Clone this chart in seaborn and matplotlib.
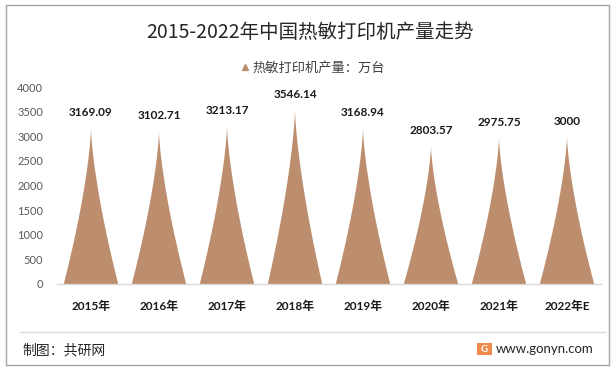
import numpy as np
import matplotlib
matplotlib.use("Agg")
import matplotlib.pyplot as plt
import seaborn as sns
import pandas as pd
from matplotlib.path import Path
from matplotlib.patches import PathPatch, Rectangle
from matplotlib.lines import Line2D

# data
years = ["2015年", "2016年", "2017年", "2018年", "2019年", "2020年", "2021年", "2022年E"]
output = [3169.09, 3102.71, 3213.17, 3546.14, 3168.94, 2803.57, 2975.75, 3000]
value_labels = ["3169.09", "3102.71", "3213.17", "3546.14", "3168.94", "2803.57", "2975.75", "3000"]
y_ticks = [0, 500, 1000, 1500, 2000, 2500, 3000, 3500, 4000]

title = "2015-2022年中国热敏打印机产量走势"
series_name = "热敏打印机产量：万台"
source_text = "制图：共研网"
site_text = "www.gonyn.com"

spike_color = "#BC8E6E"
cjk = ["Noto Sans CJK SC", "DejaVu Sans"]
num_font = ["Lato", "Noto Sans CJK SC"]

sns.set_theme(style="white")
plt.rcParams["font.family"] = cjk

df = pd.DataFrame({"year": years, "output": output})

fig = plt.figure(figsize=(6.16, 3.71), dpi=100)
ax = fig.add_axes([57 / 616, 1 - 284 / 371, 544 / 616, 197 / 371])

sns.barplot(data=df, x="year", y="output", color=spike_color, width=0.8,
            saturation=1, ax=ax)


def spike_path(x0, w, h, n=80):
    # concave "pointed" shape built on the bar's own geometry
    t = np.linspace(0, 1, n)
    half = 0.5 * w * (1 - t) ** 1.45
    xc = x0 + w / 2
    ys = t * h
    left = np.column_stack([xc - half, ys])
    right = np.column_stack([xc + half, ys])[::-1]
    verts = np.vstack([left, right, left[:1]])
    codes = [Path.MOVETO] + [Path.LINETO] * (len(verts) - 2) + [Path.CLOSEPOLY]
    return Path(verts, codes)


for bar, lab in zip(list(ax.patches), value_labels):
    x0, w, h = bar.get_x(), bar.get_width(), bar.get_height()
    bar.set_visible(False)
    ax.add_patch(PathPatch(spike_path(x0, w, h), facecolor=spike_color,
                           edgecolor="none"))
    ax.annotate(lab, (x0 + w / 2, h), xytext=(0, 7), textcoords="offset points",
                ha="center", va="bottom", fontsize=8.5, fontweight="bold",
                family=num_font, color="#1a1a1a")

ax.set_ylim(0, 4000)
ax.set_xlim(-0.5, len(years) - 0.5)
ax.set_yticks(y_ticks)
ax.set_yticklabels([str(v) for v in y_ticks], family=num_font, fontsize=8,
                   color="#595959")
ax.set_xticks(range(len(years)))
ax.set_xticklabels(years, family=num_font, fontsize=8.5, fontweight="bold",
                   color="#1a1a1a")
ax.tick_params(axis="y", length=0, pad=10)
ax.tick_params(axis="x", length=0, pad=12)
ax.set_xlabel("")
ax.set_ylabel("")
for side in ["left", "right", "top"]:
    ax.spines[side].set_visible(False)
ax.spines["bottom"].set_color("#D9D9D9")
ax.spines["bottom"].set_linewidth(1)
ax.grid(False)

# title and legend
fig.text(0.503, 1 - 32 / 371, title, ha="center", va="center", fontsize=14,
         color="#262626")
handle = Line2D([], [], marker="^", color=spike_color, linestyle="none",
                markersize=5)
fig.legend([handle], [series_name], loc="center", bbox_to_anchor=(0.507, 1 - 68 / 371),
           frameon=False, fontsize=9.5, handletextpad=0.1, handlelength=0.8,
           labelcolor="#404040")

# footer
fig.add_artist(Line2D([20 / 616, 605 / 616], [1 - 331.5 / 371] * 2,
                      color="#D9D9D9", linewidth=1))
fig.text(22 / 616, 1 - 350 / 371, source_text, ha="left", va="center",
         fontsize=10, color="#262626")
fig.add_artist(Rectangle((477 / 616, 1 - 355 / 371), 15 / 616, 12 / 371,
                         facecolor="#F08A4B", edgecolor="none"))
fig.text(484.5 / 616, 1 - 349 / 371, "G", ha="center", va="center",
         fontsize=7, fontweight="bold", color="white", family=num_font)
fig.text(594 / 616, 1 - 349 / 371, site_text, ha="right", va="center",
         fontsize=9.5, color="#262626", family=num_font)

# outer frame
fig.add_artist(Rectangle((6 / 616, 1 - 365 / 371), 603 / 616, 360 / 371,
                         facecolor="none", edgecolor="#A6A6A6", linewidth=1))

fig.savefig("out.png", dpi=100)
